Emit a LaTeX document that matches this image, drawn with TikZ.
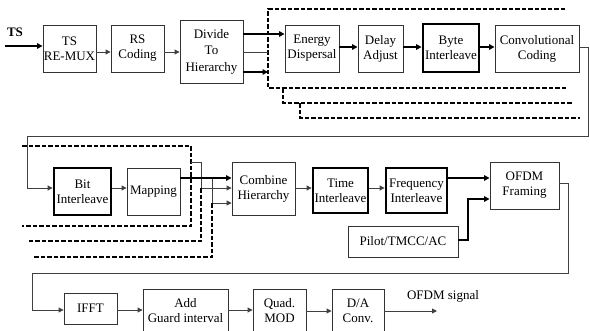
\documentclass[tikz,border=0pt]{standalone}
\usepackage{fontspec}
\setmainfont{Liberation Serif}
\usetikzlibrary{arrows.meta}

\begin{document}
\begin{tikzpicture}[x=1pt,y=-1pt,
  box/.style={draw=black!80, line width=0.9pt, align=center, inner sep=0pt,
              font=\fontsize{13}{15}\selectfont},
  heavy/.style={box, draw=black, line width=2.8pt},
  sz/.style 2 args={minimum width=#1pt, minimum height=#2pt},
  wire/.style={draw=black!75, line width=0.9pt},
  arr/.style={wire, -{Triangle[length=5pt,width=5pt]}},
  bus/.style={draw=black, line width=1.8pt},
  busarr/.style={bus, -{Triangle[length=5.5pt,width=5.5pt]}},
  layer/.style={draw=black, line width=1.3pt, dash pattern=on 4.5pt off 2pt},
  lbl/.style={font=\fontsize{13}{15}\selectfont, inner sep=0pt}
]
\useasboundingbox (0,0) rectangle (590,330);

% ---------------- first row: TS in, outer coding of layer A ----------------
\node[lbl, font=\fontsize{13}{15}\selectfont\bfseries] (tslbl) at (15,32) {TS};
\coordinate (tsin) at (5,46);
\node[box, sz={53}{47}] (remux)  at (69.5,48.5) {TS\\RE-MUX};
\node[box, sz={53}{47}] (rs)     at (137.5,48.5) {RS\\Coding};
\node[box, sz={63}{63}, font=\fontsize{13}{16.5}\selectfont] (divide) at (211.5,51.5) {Divide\\To\\Hierarchy};
\node[box, sz={54}{47}] (energy) at (312,48.5) {Energy\\Dispersal};
\node[box, sz={45}{47}] (delay)  at (380.5,48.5) {Delay\\Adjust};
\node[heavy, sz={56}{48}] (byte) at (451,48) {Byte\\Interleave};
\node[box, sz={84}{47}] (conv)   at (537,48.5) {Convolutional\\Coding};

% layer A dashed frame and the B / C layer paths
\coordinate (fa1) at (565,9);
\coordinate (fa2) at (268,9);
\coordinate (fa3) at (268,88);
\coordinate (fa4) at (568,88);
\draw[layer] (fa1) -- (fa2) -- (fa3) -- (fa4);
\coordinate (fb1) at (283,88);
\coordinate (fb2) at (283,103);
\coordinate (fb3) at (573,103);
\draw[layer] (fb1) -- (fb2) -- (fb3);
\coordinate (fc1) at (300,103);
\coordinate (fc2) at (300,118);
\coordinate (fc3) at (580,118);
\draw[layer] (fc1) -- (fc2) -- (fc3);

\draw[busarr] (tsin) -- (tsin -| remux.west);
\draw[arr] (remux.east |- 0,52) -- (rs.west |- 0,52);
\draw[arr] (rs.east |- 0,52) -- (divide.west |- 0,52);
\draw[busarr] (divide.east |- 0,34) -- (energy.west |- 0,34);
\draw[wire] (divide.east |- 0,52) -- (fa3 |- 0,52);
\draw[busarr] (divide.east |- 0,72) -- (fa3 |- 0,72);
\draw[busarr] (energy.east |- 0,47) -- (delay.west |- 0,47);
\draw[busarr] (delay.east |- 0,47) -- (byte.west |- 0,47);
\draw[busarr] (byte.east |- 0,47) -- (conv.west |- 0,47);

% ---------------- second row: inner interleaving and framing ----------------
\node[heavy, sz={57}{47}] (bit)     at (82.5,191.5) {Bit\\Interleave};
\node[box, sz={53}{47}]   (mapping) at (153.5,191.5) {Mapping};
\node[box, sz={63}{53}]   (combine) at (263.5,188.5) {Combine\\Hierarchy};
\node[heavy, sz={55}{45}] (time)    at (340.5,190.5) {Time\\Interleave};
\node[heavy, sz={61}{45}] (freq)    at (416.5,190.5) {Frequency\\Interleave};
\node[box, sz={69}{47}]   (ofdm)    at (524.5,185.5) {OFDM\\Framing};
\node[box, sz={110}{31}]  (pilot)   at (403,241.5) {Pilot/TMCC/AC};

% loop from convolutional coding down to bit interleave
\coordinate (la) at (588,47);
\coordinate (lb) at (588,136);
\coordinate (lc) at (27,136);
\coordinate (ld) at (27,188);
\draw[wire] (conv.east |- la) -- (la) -- (lb) -- (lc) -- (ld);
\draw[arr] (ld) -- (ld -| bit.west);
\draw[arr] (bit.east |- 0,188) -- (mapping.west |- 0,188);

% layer A dashed frame, second row
\coordinate (ga1) at (22,146);
\coordinate (ga2) at (191,146);
\coordinate (ga3) at (191,226);
\coordinate (ga4) at (22,226);
\draw[layer] (ga1) -- (ga2) -- (ga3) -- (ga4);

% layer B path into combine hierarchy
\coordinate (gb1) at (191,162);
\coordinate (gb2) at (201,162);
\coordinate (gb3) at (201,188);
\coordinate (gb4) at (201,241);
\coordinate (gb5) at (27,241);
\draw[wire] (gb1) -- (gb2) -- (gb3);
\draw[arr] (gb3) -- (gb3 -| combine.west);
\draw[layer] (gb3) -- (gb4) -- (gb5);

% layer C path into combine hierarchy
\coordinate (gc1) at (212,178);
\coordinate (gc2) at (212,203);
\coordinate (gc3) at (212,257);
\coordinate (gc4) at (32,257);
\draw[wire] (gc1) -- (gc2);
\draw[arr] (gc2) -- (gc2 -| combine.west);
\draw[layer] (gc2) -- (gc3) -- (gc4);

\draw[busarr] (mapping.east |- 0,178) -- (combine.west |- 0,178);
\draw[arr] (combine.east |- 0,188) -- (time.west |- 0,188);
\draw[arr] (time.east |- 0,188) -- (freq.west |- 0,188);
\draw[busarr] (freq.east |- 0,178) -- (ofdm.west |- 0,178);
\coordinate (pa) at (468,240);
\coordinate (pb) at (468,199);
\draw[busarr] (pilot.east |- pa) -- (pa) -- (pb) -- (pb -| ofdm.west);

% ---------------- third row: modulation and output ----------------
\node[box, sz={53}{31}] (ifft) at (90.5,308.5) {IFFT};
\node[box, sz={85}{43}] (add)  at (185.5,310.5) {Add\\Guard interval};
\node[box, sz={53}{43}] (quad) at (279.5,310.5) {Quad.\\MOD};
\node[box, sz={52}{43}] (da)   at (358,310.5) {D/A\\Conv.};
\node[lbl] (sig) at (443,296) {OFDM signal};

\coordinate (ma) at (568,183);
\coordinate (mb) at (568,273);
\coordinate (mc) at (32,273);
\coordinate (md) at (32,310);
\draw[wire] (ofdm.east |- ma) -- (ma) -- (mb) -- (mc) -- (md);
\draw[arr] (md) -- (md -| ifft.west);
\draw[arr] (ifft.east |- 0,310) -- (add.west |- 0,310);
\draw[arr] (add.east |- 0,310) -- (quad.west |- 0,310);
\draw[arr] (quad.east |- 0,311) -- (da.west |- 0,311);
\coordinate (out) at (437,311);
\draw[arr] (da.east |- out) -- (out);
\end{tikzpicture}
\end{document}
